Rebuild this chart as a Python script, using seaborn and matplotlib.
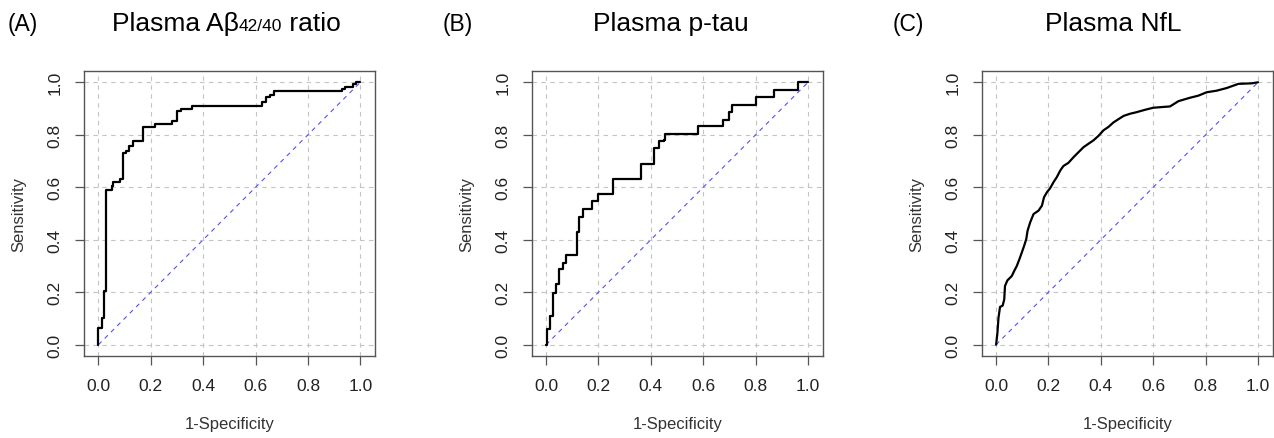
import numpy as np
import pandas as pd
import matplotlib
matplotlib.use("Agg")
import matplotlib.pyplot as plt
import seaborn as sns

# ROC corner points (1-specificity, sensitivity)
fpr_abeta = [0.0, 0.0, 0.013, 0.022, 0.029, 0.051, 0.057, 0.083, 0.095, 0.104, 0.118,
             0.131, 0.172, 0.216, 0.28, 0.299, 0.314, 0.356, 0.624, 0.641, 0.654,
             0.669, 0.93, 0.943, 0.972, 0.985, 1.0]
tpr_abeta = [0.0, 0.064, 0.10, 0.206, 0.589, 0.605, 0.62, 0.63, 0.73, 0.74, 0.758,
             0.777, 0.83, 0.84, 0.853, 0.89, 0.90, 0.911, 0.924, 0.943, 0.953,
             0.966, 0.975, 0.983, 0.994, 1.0, 1.0]

fpr_ptau = [0.0, 0.003, 0.013, 0.025, 0.038, 0.051, 0.064, 0.076, 0.117, 0.127, 0.142,
            0.175, 0.197, 0.254, 0.362, 0.413, 0.432, 0.451, 0.454, 0.581, 0.676,
            0.698, 0.708, 0.803, 0.869, 0.962, 1.0]
tpr_ptau = [0.0, 0.058, 0.111, 0.198, 0.23, 0.288, 0.313, 0.341, 0.428, 0.486, 0.518,
            0.547, 0.573, 0.633, 0.69, 0.748, 0.776, 0.78, 0.803, 0.832, 0.857,
            0.886, 0.915, 0.943, 0.971, 1.0, 1.0]

fpr_nfl = [0.0, 0.005, 0.009, 0.015, 0.025, 0.031, 0.034, 0.043, 0.06, 0.069, 0.079,
           0.089, 0.098, 0.107, 0.115, 0.12, 0.13, 0.143, 0.162, 0.175, 0.183, 0.194,
           0.206, 0.219, 0.232, 0.245, 0.257, 0.276, 0.296, 0.315, 0.334, 0.353,
           0.372, 0.391, 0.41, 0.429, 0.448, 0.468, 0.487, 0.511, 0.536, 0.568,
           0.6, 0.664, 0.696, 0.74, 0.772, 0.804, 0.842, 0.88, 0.925, 0.976, 1.0]
tpr_nfl = [0.0, 0.045, 0.102, 0.144, 0.149, 0.172, 0.224, 0.245, 0.262, 0.281, 0.3,
           0.326, 0.351, 0.377, 0.402, 0.434, 0.466, 0.498, 0.511, 0.53, 0.562, 0.581,
           0.596, 0.619, 0.639, 0.664, 0.681, 0.693, 0.715, 0.734, 0.753, 0.766,
           0.779, 0.796, 0.817, 0.83, 0.847, 0.86, 0.872, 0.88, 0.886, 0.895,
           0.903, 0.908, 0.928, 0.941, 0.949, 0.962, 0.968, 0.978, 0.994, 0.996, 1.0]

diag = [0.0, 1.0]
ticks = [0.0, 0.2, 0.4, 0.6, 0.8, 1.0]
tick_labels = ["0.0", "0.2", "0.4", "0.6", "0.8", "1.0"]
panel_tags = ["(A)", "(B)", "(C)"]

sns.set_theme(style="white")
plt.rcParams["font.family"] = ["Liberation Sans", "DejaVu Sans"]

W, H = 1274, 439
fig = plt.figure(figsize=(W / 100, H / 100), dpi=100)

panels = [
    (fpr_abeta, tpr_abeta, "steps-post"),
    (fpr_ptau, tpr_ptau, "steps-post"),
    (fpr_nfl, tpr_nfl, "default"),
]
lefts = [84, 531.7, 981.7]
title_centers = [226, 670.5, 1113]
tag_x = [8, 443, 893]
titles = [
    [("Plasma A\u03b2", 19), ("42/40", 12.5), (" ratio", 19)],
    [("Plasma p-tau", 19)],
    [("Plasma NfL", 19)],
]

frame_col = "#555555"
renderer = fig.canvas.get_renderer()

for i, (fpr, tpr, ds) in enumerate(panels):
    ax = fig.add_axes([lefts[i] / W, (H - 357) / H, 291 / W, 285 / H])
    ax.set_xlim(-0.055, 1.056)
    ax.set_ylim(-0.043, 1.043)
    for t in ticks:
        ax.axhline(t, color="#c4c4c4", lw=0.8, ls=(0, (4, 4)), zorder=1)
        ax.axvline(t, color="#c4c4c4", lw=0.8, ls=(0, (4, 4)), zorder=1)
    sns.lineplot(x=diag, y=diag, ax=ax, color="#5050ff", lw=0.8,
                 ls=(0, (4, 4)), zorder=2)
    df = pd.DataFrame({"fpr": fpr, "tpr": tpr})
    sns.lineplot(data=df, x="fpr", y="tpr", ax=ax, estimator=None, sort=False,
                 color="black", lw=1.6, drawstyle=ds, zorder=3)
    ax.set_xticks(ticks)
    ax.set_yticks(ticks)
    ax.set_xticklabels(tick_labels)
    ax.set_yticklabels(tick_labels, rotation=90, va="center")
    ax.tick_params(axis="both", direction="out", length=6.5, width=0.9,
                   color=frame_col, labelsize=12.5, labelcolor="#222222", pad=9,
                   bottom=True, left=True)
    for s in ax.spines.values():
        s.set_color(frame_col)
        s.set_linewidth(1.0)
    ax.set_xlabel("1-Specificity", fontsize=12, color="#333333", labelpad=17)
    ax.set_ylabel("Sensitivity", fontsize=12, color="#333333", labelpad=15)

    # panel tag and title
    fig.text(tag_x[i] / W, 1 - 31 / H, panel_tags[i], fontsize=16.5,
             ha="left", va="baseline", color="black")
    parts = titles[i]
    widths = []
    for txt, fs in parts:
        t = fig.text(0, 0, txt, fontsize=fs)
        widths.append(t.get_window_extent(renderer).width)
        t.remove()
    x0 = title_centers[i] - sum(widths) / 2
    for (txt, fs), w in zip(parts, widths):
        fig.text(x0 / W, 1 - 31 / H, txt, fontsize=fs, ha="left",
                 va="baseline", color="black")
        x0 += w

fig.savefig("out.png", dpi=100)
